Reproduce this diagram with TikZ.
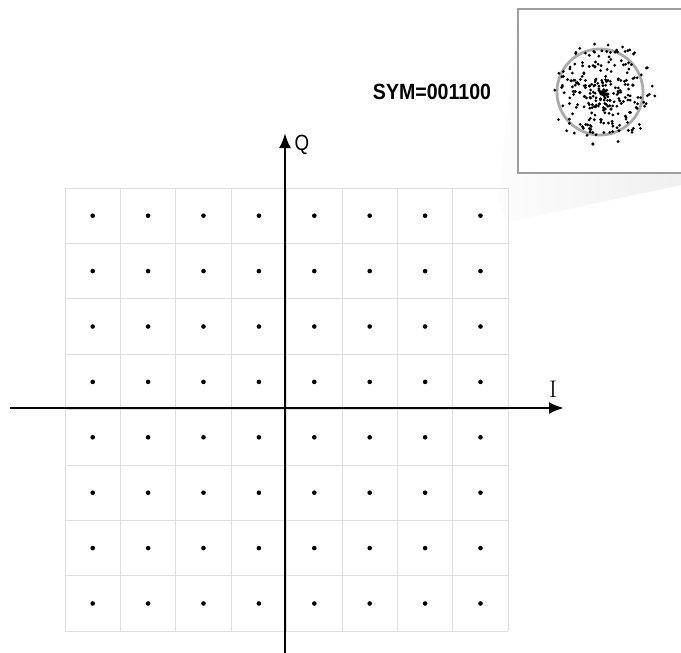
\documentclass[tikz,border=0pt]{standalone}
\usepackage{fontspec}
\newfontfamily\symfont{Liberation Sans}
\usetikzlibrary{arrows.meta,calc}
\tikzset{
  gridline/.style={draw=black!13, line width=1pt},
  cdot/.style={fill=black},
  axisline/.style={line width=2.6pt, black, -{Latex[length=15pt,width=12pt]}},
  insetbox/.style={draw=black!38, line width=2.8pt, fill=white},
  ringline/.style={draw=black!33, line width=2.8pt},
  lbl/.style={inner sep=0pt, anchor=center}
}
\begin{document}
\begin{tikzpicture}[x=1pt,y=-1pt]
\useasboundingbox (0,0) rectangle (681,653);
\clip (0,0) rectangle (681,653);
\fill[white] (0,0) rectangle (681,653);
% shadow wedge
\shade[left color=black!1, right color=black!6] (518,12) -- (498,200) -- (508,222) -- (681,185) -- (681,173) -- (518,173) -- cycle;
% grid
\foreach \k in {0,...,8} {
  \draw[gridline] ({65+55.4*\k},188) -- ({65+55.4*\k},631.2);
  \draw[gridline] (65,{188+55.4*\k}) -- (508.2,{188+55.4*\k});
}
\foreach \i in {0,...,7} {
  \foreach \j in {0,...,7} {
    \fill[cdot] ({65+55.4*(\i+0.5)},{188+55.4*(\j+0.5)}) circle (2.3pt);
  }
}
% axes
\coordinate (xs) at (10,408);
\coordinate (xe) at (564,408);
\coordinate (ys) at (285,660);
\coordinate (ye) at (285,133);
\draw[axisline] (xs) -- (xe);
\draw[axisline] (ys) -- (ye);
\node[lbl] (qlbl) at (302,145) {\symfont\fontsize{22}{22}\selectfont\scalebox{0.85}[1]{Q}};
\node[lbl] (ilbl) at (553,389) {\fontsize{24}{24}\selectfont I};
% label
\node[lbl] (sym) at (432,92) {\symfont\bfseries\fontsize{22}{22}\selectfont\scalebox{0.89}[1]{SYM=001100}};
% inset
\draw[insetbox] (518,9) rectangle (700,173);
\draw[ringline] (600,92) circle (43pt);
\pgfmathsetseed{11}
\foreach \n in {1,...,290} {
  \pgfmathsetmacro{\ang}{360*rnd}
  \pgfmathsetmacro{\rad}{52*pow(rnd,0.85)}
  \fill[black] ($(603,94)+(\ang:\rad)$) circle (1.55pt);
}
\end{tikzpicture}
\end{document}
